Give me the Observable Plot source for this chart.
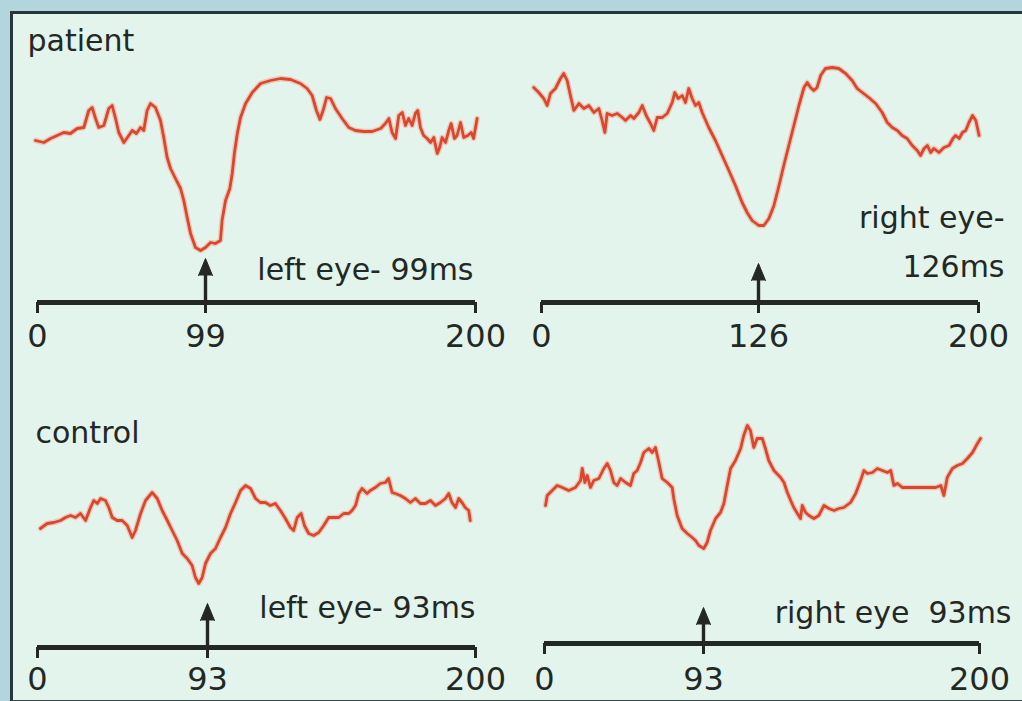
<!DOCTYPE html>
<html>
<head>
<meta charset="utf-8">
<script src="https://cdn.jsdelivr.net/npm/d3@7"></script>
<script src="https://cdn.jsdelivr.net/npm/@observablehq/plot@0.6"></script>
<style>
  html, body { margin: 0; padding: 0; }
  body { width: 1022px; height: 701px; background: #b3d5de; position: relative; overflow: hidden; }
  #panel { position: absolute; left: 10px; top: 11px; width: 1030px; height: 686px;
           background: #e2f4eb; border-left: 3px solid #27363a; border-top: 3px solid #27363a;
           border-bottom: 3px solid #3a4a48; }
  .layer { position: absolute; left: 0; top: 0; }
</style>
</head>
<body>
<div id="panel"></div>
<div id="root"></div>
<script>
// ---- data (ms, amplitude a.u.; up = positive) ----
const groups = ["patient", "control"];
const latencies = [99, 126, 93, 93];           // TL, TR, BL, BR
const eyeLabels = [["left eye- 99ms"], ["right eye-", "126ms"], ["left eye- 93ms"], ["right eye  93ms"]];
const sweepMs = [0, 200];

const patientLeft = [[-1.2,16.2],[3.7,16.0],[7.7,16.4],[11.6,16.7],[15.5,17.0],[19.4,16.9],[23.4,17.4],[27.3,17.5],[30.2,19.2],[32.2,19.5],[34.2,18.4],[36.1,17.5],[39.1,17.7],[42.0,19.4],[44.0,19.7],[46.0,18.4],[47.9,17.0],[50.9,16.0],[53.8,16.7],[55.8,17.2],[58.3,16.9],[60.7,17.5],[62.6,17.2],[64.6,19.2],[66.6,19.9],[69.5,19.5],[72.5,18.2],[74.4,16.5],[76.4,14.5],[78.4,13.4],[81.3,12.4],[84.3,11.4],[86.2,10.2],[88.2,8.5],[90.2,6.9],[93.1,5.5],[96.1,5.2],[99.0,5.5],[100.9,6.0],[102.7,5.9],[104.6,6.2],[105.2,8.2],[106.5,10.2],[108.1,11.4],[109.0,12.9],[109.8,14.9],[110.9,16.9],[112.1,18.5],[114.0,19.9],[116.5,21.0],[119.6,21.9],[123.3,22.2],[127.1,22.4],[130.8,22.3],[134.5,21.9],[137.0,21.4],[138.9,20.7],[140.5,19.2],[141.8,18.3],[143.0,19.2],[144.3,20.5],[145.8,20.4],[147.6,19.4],[150.1,18.4],[152.6,17.5],[155.1,17.2],[158.2,17.1],[161.3,17.1],[164.5,17.4],[166.3,17.9],[167.6,18.4],[168.8,17.0],[170.1,16.4],[171.3,18.7],[172.6,19.0],[173.8,17.7],[175.0,18.4],[176.3,17.7],[177.5,18.9],[178.4,19.2],[179.4,17.5],[180.6,16.7],[181.9,16.4],[183.2,16.0],[184.4,16.5],[185.7,14.9],[186.6,15.5],[187.5,16.5],[188.8,16.0],[190.0,17.2],[190.9,17.9],[192.1,16.4],[193.1,16.7],[194.4,18.0],[195.6,16.5],[197.1,16.7],[198.4,17.0],[199.3,16.4],[200.6,18.4]];

const patientRight = [[-4.5,21.5],[-1.6,21.0],[1.3,20.4],[3.3,19.7],[5.2,20.9],[8.1,21.4],[11.0,22.4],[12.9,22.9],[14.9,22.2],[16.8,20.7],[18.8,19.2],[21.7,19.9],[24.6,19.4],[27.5,19.7],[30.4,19.0],[33.3,19.4],[35.2,18.2],[36.8,17.0],[38.1,18.9],[41.0,18.7],[44.0,18.9],[46.9,18.5],[48.8,18.2],[51.7,18.7],[53.6,18.4],[56.5,19.0],[58.5,19.7],[60.8,18.7],[63.3,17.9],[65.2,17.2],[67.2,18.5],[70.1,18.5],[73.0,18.9],[75.9,20.0],[77.4,21.0],[79.4,20.4],[81.7,20.7],[83.6,20.0],[85.5,21.4],[87.5,20.4],[89.4,19.7],[91.3,20.0],[93.3,19.0],[97.1,17.5],[101.0,16.2],[104.9,14.7],[108.8,13.2],[112.6,11.7],[116.5,10.0],[119.4,9.0],[122.3,8.2],[126.1,7.7],[127.8,7.7],[129.5,8.4],[131.2,9.7],[132.9,11.7],[134.5,13.7],[136.2,15.7],[137.9,17.7],[139.6,19.7],[141.3,21.5],[142.4,22.0],[143.5,21.5],[144.6,21.2],[145.7,21.5],[146.9,22.7],[148.5,23.4],[150.8,23.5],[153.0,23.4],[155.3,22.9],[157.5,22.2],[159.2,21.4],[160.9,21.0],[163.1,20.5],[165.4,19.9],[167.6,19.0],[169.3,18.0],[171.0,17.5],[172.7,17.2],[174.3,16.7],[176.0,16.4],[177.7,15.7],[179.4,15.2],[180.5,14.7],[181.7,15.4],[182.8,15.7],[183.9,15.0],[185.0,15.4],[186.7,15.0],[188.4,15.5],[190.1,15.7],[191.4,16.4],[192.3,16.7],[193.5,16.4],[194.6,17.0],[195.7,17.2],[196.8,18.0],[198.0,18.7],[199.1,18.2],[200.2,16.7]];

const controlLeft = [[1.6,11.9],[5.3,12.4],[8.9,12.5],[12.6,12.7],[15.3,13.0],[18.1,13.2],[20.8,13.0],[23.5,13.4],[26.3,12.7],[29.0,14.0],[30.8,14.7],[32.7,14.4],[34.5,14.9],[37.2,14.7],[39.0,14.0],[40.9,13.0],[43.6,12.7],[46.3,12.7],[49.1,12.2],[51.8,11.0],[53.6,11.7],[56.4,13.4],[59.1,14.7],[62.7,15.5],[65.5,14.9],[68.2,13.7],[71.0,12.7],[73.7,11.7],[76.4,10.7],[79.2,9.4],[81.9,8.9],[84.6,8.2],[86.4,7.0],[88.2,6.4],[90.1,7.0],[91.9,8.4],[94.2,9.4],[96.2,9.9],[98.2,11.0],[100.2,12.0],[102.2,13.4],[104.2,14.5],[106.2,15.7],[108.2,16.2],[110.2,15.9],[112.2,14.9],[114.1,14.5],[116.1,14.5],[118.1,14.2],[120.1,14.4],[122.1,13.7],[124.1,12.9],[126.1,12.0],[127.4,11.7],[128.8,13.0],[130.4,13.4],[131.7,12.2],[133.4,11.4],[135.4,11.2],[137.4,11.5],[139.4,12.2],[141.4,13.0],[143.4,13.0],[145.4,13.0],[147.4,13.4],[149.4,13.4],[150.7,13.7],[152.1,14.2],[153.4,15.4],[154.7,15.9],[156.7,15.4],[158.0,15.7],[160.0,16.0],[162.0,16.4],[164.0,16.5],[165.3,16.9],[166.7,15.5],[168.0,15.4],[170.0,15.2],[172.0,14.9],[174.0,14.5],[176.0,14.9],[178.0,14.4],[180.0,14.4],[182.0,14.7],[184.0,14.2],[186.0,14.5],[188.0,14.9],[189.3,15.4],[190.6,14.5],[192.0,14.0],[193.3,14.9],[194.6,14.5],[195.9,14.0],[197.3,13.7],[197.9,12.7]];

const controlRight = [[0.6,13.8],[1.6,14.8],[4.5,15.3],[7.4,15.8],[10.4,15.6],[14.2,15.3],[18.1,15.6],[21.1,16.3],[22.1,17.5],[23.6,16.1],[25.0,16.8],[26.9,15.6],[28.8,16.3],[31.8,16.5],[34.7,17.5],[36.7,18.0],[38.6,17.3],[40.5,16.1],[42.5,15.8],[44.5,16.5],[47.4,16.1],[50.3,15.8],[52.2,17.0],[54.2,17.3],[56.2,18.1],[58.1,19.1],[61.0,19.5],[63.0,19.1],[64.9,19.6],[66.9,18.1],[68.8,16.5],[71.8,16.1],[74.7,15.6],[75.6,14.5],[77.6,12.8],[80.5,11.5],[83.5,11.0],[86.4,10.6],[88.3,10.3],[90.3,9.8],[93.1,9.5],[94.4,10.1],[95.7,11.3],[97.7,12.5],[99.6,13.1],[100.9,14.0],[102.2,15.8],[103.5,17.5],[105.4,18.3],[107.4,19.5],[108.6,20.8],[110.0,21.8],[111.2,21.3],[112.5,19.6],[113.8,20.5],[115.8,20.5],[117.0,19.5],[118.3,18.3],[120.3,17.3],[122.9,16.6],[124.2,16.1],[125.5,15.1],[126.8,14.3],[128.0,13.6],[129.4,13.0],[130.6,12.5],[131.3,13.8],[132.6,13.1],[133.9,12.8],[135.8,12.5],[137.7,12.8],[139.7,13.8],[141.6,13.5],[143.6,13.3],[145.5,13.5],[147.4,13.6],[150.0,14.1],[152.0,15.0],[153.9,16.3],[155.2,17.3],[156.5,17.0],[158.5,17.1],[160.4,17.5],[162.3,17.3],[164.3,17.1],[165.6,17.3],[166.8,15.8],[168.2,16.0],[170.1,15.6],[172.7,15.6],[175.3,15.6],[177.9,15.6],[180.4,15.6],[183.0,15.6],[185.0,15.8],[186.2,14.8],[187.5,16.6],[189.5,17.5],[191.4,17.8],[193.4,18.0],[195.3,18.5],[197.3,19.1],[199.2,20.0],[200.4,20.5]];

const traces = [patientLeft, patientRight, controlLeft, controlRight];

// ---- layout (pixels, styling only) ----
const layout = [
  {axisY: 302, xr: [37, 205, 475], arrowTop: 4.4, tickPad: 11, group: 0, groupPos: {x: 0, y: 25.2, dx: -10},
   labelPos: [{x: 200, y: 2.3, dx: -2}]},
  {axisY: 302, xr: [541, 758, 978], arrowTop: 3.9, tickPad: 11, group: null,
   labelPos: [{x: 200, y: 7.5, dx: 26}, {x: 200, y: 2.6, dx: 26}]},
  {axisY: 647, xr: [37, 207, 475], arrowTop: 4.4, tickPad: 9, group: 1, groupPos: {x: 0, y: 20.5, dx: -2},
   labelPos: [{x: 200, y: 3.0, dx: 0}]},
  {axisY: 643, xr: [544, 703, 979], arrowTop: 3.6, tickPad: 13, group: null,
   labelPos: [{x: 200, y: 2.1, dx: 32}]}
];

const ink = "#232825";
const font = "DejaVu Sans";
const root = document.getElementById("root");

layout.forEach((L, i) => {
  const lat = latencies[i];
  const marks = [
    // trace halo + trace
    Plot.line(traces[i], {x: d => d[0], y: d => d[1], stroke: "#f3a08a", strokeWidth: 5.5, strokeOpacity: 0.5, strokeLinejoin: "round"}),
    Plot.line(traces[i], {x: d => d[0], y: d => d[1], stroke: "#da472e", strokeWidth: 2.8, strokeLinejoin: "round"}),
    // time axis line
    Plot.ruleY([{v: 0, a: sweepMs[0], b: sweepMs[1]}], {y: "v", x1: "a", x2: "b", stroke: ink, strokeWidth: 5}),
    Plot.axisX({ticks: [sweepMs[0], lat, sweepMs[1]], tickFormat: d => String(d), tickSize: 11, tickPadding: L.tickPad,
                fontSize: 32, strokeWidth: 3, stroke: ink, fill: ink, label: null}),
    // latency arrow: stem + filled spike head
    Plot.ruleX([lat], {x: d => d, y1: 0, y2: L.arrowTop - 0.8, stroke: ink, strokeWidth: 3.4}),
    Plot.vector([lat], {x: d => d, y: L.arrowTop, rotate: 0, length: 17, r: 7, shape: "spike", anchor: "end",
                        fill: ink, stroke: ink, strokeWidth: 1}),
    // eye / latency labels
    ...eyeLabels[i].map((t, k) => Plot.text([t], {x: L.labelPos[k].x, y: L.labelPos[k].y, dx: L.labelPos[k].dx, text: d => d,
        textAnchor: "end", lineAnchor: "bottom", fontSize: 30, fill: ink}))
  ];
  if (L.group !== null) {
    marks.push(Plot.text([groups[L.group]], {x: L.groupPos.x, y: L.groupPos.y, dx: L.groupPos.dx, text: d => d,
      textAnchor: "start", lineAnchor: "bottom", fontSize: 30, fill: ink}));
  }
  const chart = Plot.plot({
    width: 1022, height: 701,
    marginTop: 0, marginLeft: 0, marginRight: 0, marginBottom: 701 - L.axisY,
    x: {type: "linear", domain: [sweepMs[0], lat, sweepMs[1]], range: L.xr},
    y: {type: "linear", domain: [0, 24], range: [L.axisY, L.axisY - 240], axis: null},
    style: {background: "transparent", overflow: "visible", fontFamily: font, color: ink},
    marks
  });
  chart.classList.add("layer");
  chart.style.position = "absolute";
  chart.style.left = "0px";
  chart.style.top = "0px";
  root.appendChild(chart);
});
</script>
</body>
</html>
